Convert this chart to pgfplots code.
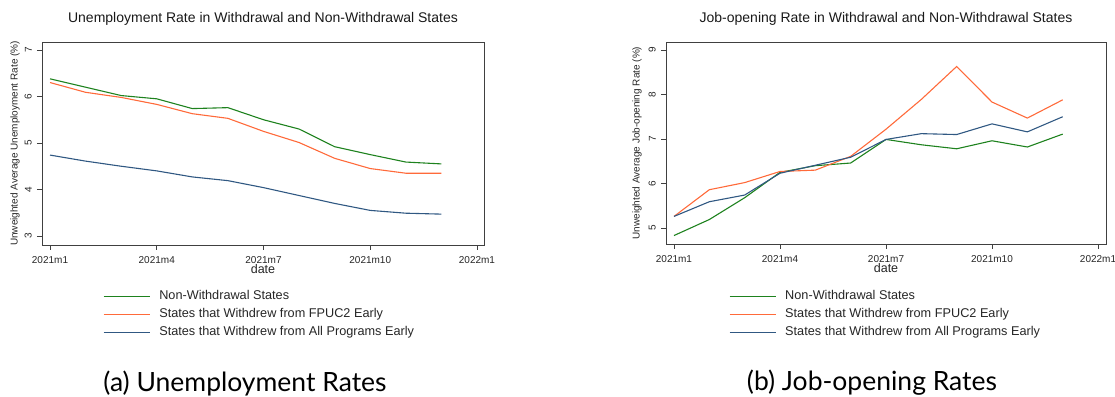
\documentclass[border=0pt]{standalone}
\usepackage{fontspec}
\setmainfont{Liberation Sans}
\newfontfamily\capfont{Lato}
\usepackage{pgfplots}
\pgfplotsset{compat=1.18}
\definecolor{cgreen}{RGB}{30,130,30}
\definecolor{corange}{RGB}{255,106,58}
\definecolor{cblue}{RGB}{48,88,130}
\definecolor{caxis}{RGB}{64,64,64}

\pgfplotstableread{
m green orange blue
0 6.38 6.30 4.74
1 6.20 6.09 4.61
2 6.02 5.98 4.50
3 5.95 5.83 4.40
4 5.74 5.63 4.27
5 5.76 5.53 4.19
6 5.50 5.25 4.04
7 5.30 5.01 3.87
8 4.92 4.67 3.70
9 4.75 4.45 3.55
10 4.59 4.35 3.49
11 4.55 4.35 3.47
}\unemp

\pgfplotstableread{
m green orange blue
0 4.83 5.26 5.26
1 5.19 5.86 5.59
2 5.68 6.02 5.74
3 6.25 6.27 6.23
4 6.40 6.30 6.41
5 6.46 6.61 6.59
6 6.99 7.22 6.99
7 6.87 7.89 7.12
8 6.78 8.63 7.10
9 6.96 7.83 7.34
10 6.82 7.47 7.16
11 7.11 7.88 7.50
}\jobs

\pgfplotsset{
  mystyle/.style={
    scale only axis,
    axis line style={caxis, line width=0.9pt},
    tick style={caxis, line width=0.8pt},
    tick align=outside,
    major tick length=5pt,
    xtick={0,3,6,9,12},
    xticklabels={2021m1,2021m4,2021m7,2021m10,2022m1},
    xtick pos=bottom, ytick pos=left,
    ticklabel style={font=\fontsize{10}{12}\selectfont, text=black!85},
    /pgf/number format/assume math mode=true,
    yticklabel style={rotate=90, anchor=south, inner sep=2pt, xshift=0pt, yshift=3pt},
    xticklabel style={inner sep=2pt, yshift=-4pt},
    xlabel={date},
    xlabel style={font=\fontsize{12.5}{14}\selectfont, text=black!85, at={(axis description cs:0.5,0)}, anchor=center, yshift=-24pt},
    title style={font=\fontsize{14}{16}\selectfont, text=black!90, at={(axis description cs:0.5,1)}, anchor=center, yshift=17pt},
    legend cell align=left,
    legend style={draw=none, fill=none, font=\fontsize{12.7}{14}\selectfont, text=black!85,
      anchor=north west, row sep=6pt, inner sep=0pt,
      nodes={inner sep=0pt, text height=9pt, text depth=3pt}},
    legend image code/.code={\draw[#1, line width=1.1pt] (0pt,0pt) -- (46pt,0pt);},
    every axis plot/.append style={line width=1.1pt, no marks},
  }
}

\begin{document}
\begin{tikzpicture}
\path[use as bounding box] (0pt,0pt) rectangle (1115pt,396pt);

\begin{axis}[mystyle,
  at={(42pt,151pt)}, anchor=south west,
  width=442pt, height=203pt,
  xmin=-0.225, xmax=12.197,
  ymin=2.806, ymax=7.172,
  ytick={3,4,5,6,7},
  title={Unemployment Rate in Withdrawal and Non-Withdrawal States},
  ylabel={Unweighted Average Unemployment Rate (\%)},
  ylabel style={font=\fontsize{10}{12}\selectfont, text=black!85, at={(axis description cs:-0.061,0.5)}, anchor=center, rotate=0},
  legend style={at={(axis description cs:0.138,-0.2246)}},
]
\addplot[cgreen] table[x=m,y=green] {\unemp};
\addlegendentry{\hspace{9pt}Non-Withdrawal States}
\addplot[corange] table[x=m,y=orange] {\unemp};
\addlegendentry{\hspace{9pt}States that Withdrew from FPUC2 Early}
\addplot[cblue] table[x=m,y=blue] {\unemp};
\addlegendentry{\hspace{9pt}States that Withdrew from All Programs Early}
\end{axis}

\begin{axis}[mystyle,
  at={(666pt,152pt)}, anchor=south west,
  width=440pt, height=202pt,
  xmin=-0.226, xmax=12.226,
  ymin=4.64, ymax=9.18,
  ytick={5,6,7,8,9},
  title={Job-opening Rate in Withdrawal and Non-Withdrawal States},
  ylabel={Unweighted Average Job-opening Rate (\%)},
  ylabel style={font=\fontsize{10}{12}\selectfont, text=black!85, at={(axis description cs:-0.066,0.5)}, anchor=center, rotate=0},
  legend style={at={(axis description cs:0.143,-0.2307)}},
]
\addplot[cgreen] table[x=m,y=green] {\jobs};
\addlegendentry{\hspace{9pt}Non-Withdrawal States}
\addplot[corange] table[x=m,y=orange] {\jobs};
\addlegendentry{\hspace{9pt}States that Withdrew from FPUC2 Early}
\addplot[cblue] table[x=m,y=blue] {\jobs};
\addlegendentry{\hspace{9pt}States that Withdrew from All Programs Early}
\end{axis}

\node[font=\capfont\fontsize{26.5}{30}\selectfont, anchor=center] at (245pt,13pt) {(a) Unemployment Rates};
\node[font=\capfont\fontsize{26.5}{30}\selectfont, anchor=center] at (872pt,13pt) {(b) Job-opening Rates};
\end{tikzpicture}
\end{document}
